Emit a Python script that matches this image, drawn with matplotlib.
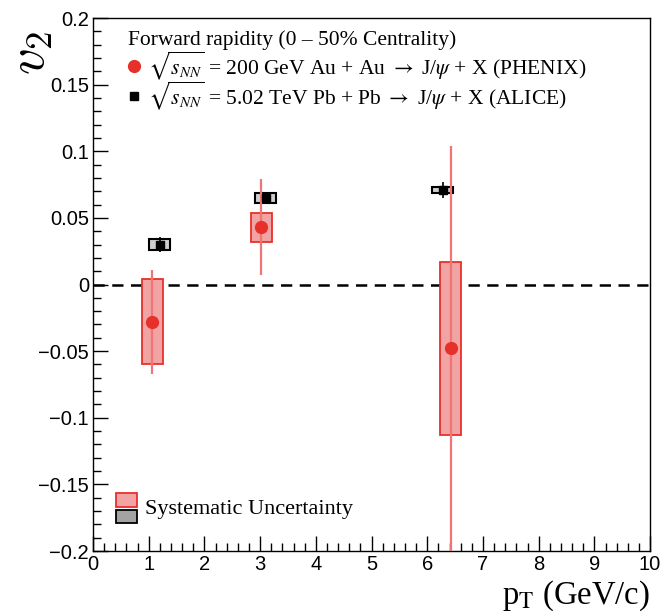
import matplotlib
matplotlib.use("Agg")
import matplotlib.pyplot as plt
from matplotlib.patches import Rectangle
from matplotlib.ticker import MultipleLocator, FuncFormatter

# PHENIX Au+Au 200 GeV, forward rapidity
phenix_pt = [1.06, 3.02, 6.42]
phenix_v2 = [-0.028, 0.043, -0.048]
phenix_stat = [0.039, 0.036, 0.152]
phenix_sys = [0.032, 0.011, 0.065]

# ALICE Pb+Pb 5.02 TeV, forward rapidity
alice_pt = [1.20, 3.10, 6.28]
alice_v2 = [0.030, 0.065, 0.071]
alice_stat = [0.0055, 0.003, 0.006]
alice_sys = [0.004, 0.004, 0.0025]

x_ticks = list(range(0, 11))
y_ticks = [-0.2, -0.15, -0.1, -0.05, 0, 0.05, 0.1, 0.15, 0.2]

red = "#e8302a"
red_fill = "#f2a3a3"
red_err = "#f07575"
gray_fill = "#a3a3a3"
box_hw = 0.19

plt.rcParams["mathtext.fontset"] = "stix"
serif = "Liberation Serif"
sans = "Liberation Sans"

fig = plt.figure(figsize=(6.6, 6.14), dpi=100)
ax = fig.add_axes([0.141, 0.1026, 0.844, 0.868])

# systematic boxes
for x, y, s in zip(phenix_pt, phenix_v2, phenix_sys):
    ax.add_patch(Rectangle((x - box_hw, y - s), 2 * box_hw, 2 * s,
                           facecolor=red_fill, edgecolor=red, lw=1.3, zorder=2))
for x, y, s in zip(alice_pt, alice_v2, alice_sys):
    ax.add_patch(Rectangle((x - box_hw, y - s), 2 * box_hw, 2 * s,
                           facecolor="#cfcfcf", edgecolor="black", lw=1.5, zorder=2))

# statistical errors and points
ax.errorbar(phenix_pt, phenix_v2, yerr=phenix_stat, fmt="none", ecolor=red_err,
            elinewidth=1.6, zorder=3)
ax.plot(phenix_pt, phenix_v2, "o", color=red, ms=8.5, zorder=4)
ax.errorbar(alice_pt, alice_v2, yerr=alice_stat, fmt="none", ecolor="black",
            elinewidth=1.2, zorder=3)
ax.plot(alice_pt, alice_v2, "s", color="black", ms=5.5, zorder=4)

ax.axhline(0, color="black", lw=1.8, dashes=(4.5, 3), zorder=1)

ax.set_xlim(0, 10)
ax.set_ylim(-0.2, 0.2)
ax.xaxis.set_minor_locator(MultipleLocator(0.2))
ax.yaxis.set_minor_locator(MultipleLocator(0.01))
ax.set_xticks(x_ticks)
ax.set_yticks(y_ticks)
ax.yaxis.set_major_formatter(FuncFormatter(lambda v, p: f"{v:g}".replace("-", "\u2212")))
ax.tick_params(which="both", direction="in", top=False, right=False,
               labelsize=14.5, width=1.0)
ax.tick_params(which="major", length=11, pad=3)
ax.tick_params(which="minor", length=5.5)
for lab in ax.get_xticklabels() + ax.get_yticklabels():
    lab.set_fontfamily(sans)
for sp in ax.spines.values():
    sp.set_linewidth(1.0)

# axis titles
fig.text(0.044, 0.914, r"$v_2$", rotation=90, fontsize=38, ha="center", va="center",
         math_fontfamily="cm")
fig.text(0.985, 0.016, r"p$_{\rm T}$ (GeV/c)", fontsize=23.5, family=serif,
         ha="right", va="baseline")

# legend
ax.text(0.063, 0.959, "Forward rapidity (0 \u2013 50% Centrality)", transform=ax.transAxes,
        fontsize=15.5, family=serif, va="center")
ax.plot([0.074], [0.910], "o", color=red, ms=8.5, transform=ax.transAxes, clip_on=False)
ax.text(0.099, 0.910, r"$\sqrt{s_{NN}}$ = 200 GeV Au + Au $\rightarrow$ J/$\psi$ + X (PHENIX)",
        transform=ax.transAxes, fontsize=15.5, family=serif, va="center")
ax.plot([0.074], [0.854], "s", color="black", ms=5.5, transform=ax.transAxes, clip_on=False)
ax.text(0.099, 0.854, r"$\sqrt{s_{NN}}$ = 5.02 TeV Pb + Pb $\rightarrow$ J/$\psi$ + X (ALICE)",
        transform=ax.transAxes, fontsize=15.5, family=serif, va="center")

ax.add_patch(Rectangle((0.041, 0.0826), 0.038, 0.026, transform=ax.transAxes,
                       facecolor=red_fill, edgecolor=red, lw=1.3))
ax.add_patch(Rectangle((0.041, 0.0525), 0.038, 0.0245, transform=ax.transAxes,
                       facecolor=gray_fill, edgecolor="black", lw=1.3))
ax.text(0.093, 0.0788, "Systematic Uncertainty", transform=ax.transAxes,
        fontsize=16, family=serif, va="center")

fig.savefig("out.png", dpi=100)
